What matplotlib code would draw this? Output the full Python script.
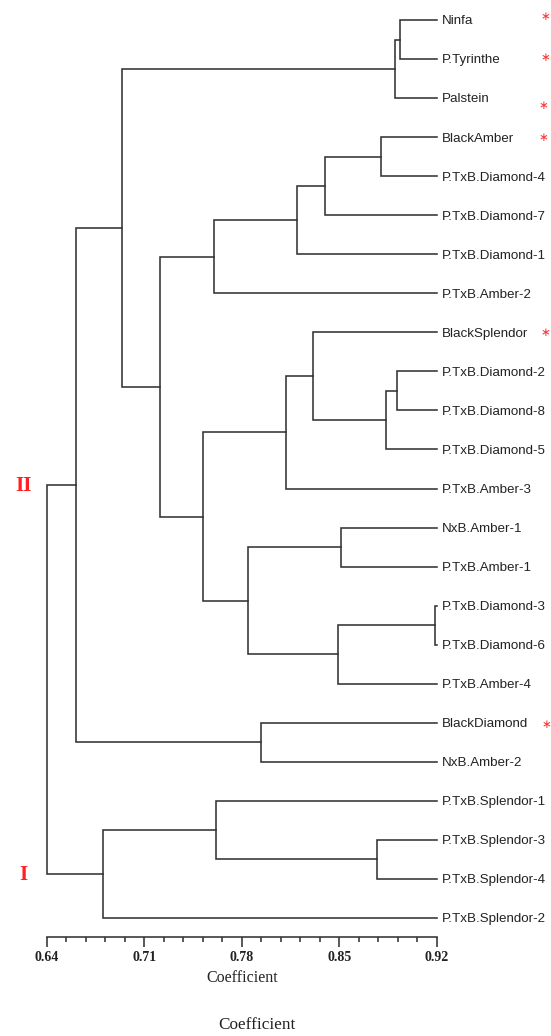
import numpy as np
import matplotlib
matplotlib.use('Agg')
import matplotlib.pyplot as plt

# leaf names, top to bottom
leaves = ['Ninfa', 'P.Tyrinthe', 'Palstein', 'BlackAmber', 'P.TxB.Diamond-4',
          'P.TxB.Diamond-7', 'P.TxB.Diamond-1', 'P.TxB.Amber-2', 'BlackSplendor',
          'P.TxB.Diamond-2', 'P.TxB.Diamond-8', 'P.TxB.Diamond-5', 'P.TxB.Amber-3',
          'NxB.Amber-1', 'P.TxB.Amber-1', 'P.TxB.Diamond-3', 'P.TxB.Diamond-6',
          'P.TxB.Amber-4', 'BlackDiamond', 'NxB.Amber-2', 'P.TxB.Splendor-1',
          'P.TxB.Splendor-3', 'P.TxB.Splendor-4', 'P.TxB.Splendor-2']

# merges: child a, child b, similarity coefficient (new node ids start at 24)
merge_a = [15, 9, 0, 26, 3, 25, 21, 13, 24, 28, 8, 33, 34, 18, 31, 20, 35, 36, 40, 27, 39, 43, 45]
merge_b = [16, 10, 1, 2, 4, 11, 22, 14, 17, 5, 29, 6, 12, 19, 32, 30, 7, 38, 41, 42, 23, 37, 44]
merge_coef = [0.919, 0.8915, 0.8934, 0.8898, 0.8798, 0.8833, 0.877, 0.8513, 0.8493,
              0.8395, 0.8312, 0.8195, 0.8119, 0.7935, 0.7843, 0.7614, 0.7604, 0.752,
              0.7214, 0.6943, 0.6807, 0.6613, 0.64]

starred = ['Ninfa', 'P.Tyrinthe', 'Palstein', 'BlackAmber', 'BlackSplendor', 'BlackDiamond']
star_dy = [-0.1, -0.04, 0.18, 0.0, 0.0, 0.05]    # small vertical nudges (rows)
star_dx = [0.0, 0.0, -1.0, -1.0, 0.0, 0.5]       # pt

group_names = ['II', 'I']
group_nodes = [45, 44]

x_min, x_max = 0.64, 0.92
n = len(leaves)

W, H = 551, 1036
fig = plt.figure(figsize=(W / 100, H / 100), dpi=100)
left_px, right_px = 46.7, 436.7
top_px, bottom_px = 20.0, 918.0
axis_px = 936.7
step = (bottom_px - top_px) / (n - 1)
ax = fig.add_axes([left_px / W, (H - axis_px) / H, (right_px - left_px) / W, axis_px / H])
ax.set_xlim(x_min, x_max)
ax.set_ylim((axis_px - top_px) / step, -top_px / step)

pos_x = {i: x_max for i in range(n)}
pos_y = {i: float(i) for i in range(n)}
lc = '#333333'
lw = 1.15
for k, (a, b, c) in enumerate(zip(merge_a, merge_b, merge_coef)):
    node = n + k
    ya, yb = pos_y[a], pos_y[b]
    ax.plot([pos_x[a], c, c, pos_x[b]], [ya, ya, yb, yb], color=lc, lw=lw,
            solid_joinstyle='miter', clip_on=False)
    pos_x[node] = c
    pos_y[node] = (ya + yb) / 2

for i, name in enumerate(leaves):
    ax.annotate(name, (x_max, i), xytext=(4, -1), textcoords='offset points',
                ha='left', va='center', fontsize=9.6, family='Liberation Sans',
                color='#222222', annotation_clip=False)

for name, dy, dx in zip(starred, star_dy, star_dx):
    i = leaves.index(name)
    ax.annotate(r'$\ast$', (x_max, i + dy), xytext=(78 + dx, 0), textcoords='offset points',
                ha='center', va='center', fontsize=8.5, color='#ff3030',
                annotation_clip=False)

for g, node in zip(group_names, group_nodes):
    ax.annotate(g, (x_min, pos_y[node]), xytext=(-17, -1), textcoords='offset points',
                ha='center', va='center', fontsize=15, family='Liberation Serif',
                fontweight='bold', color='#ff2020', annotation_clip=False)

major = np.round(np.arange(0.64, 0.92 + 1e-9, 0.07), 2)
ax.set_xticks(major)
ax.set_xticks(np.arange(0.64, 0.92 + 1e-9, 0.014), minor=True)
ax.set_xticklabels(['%.2f' % v for v in major],
                   family='Liberation Serif', fontweight='bold', fontsize=10)
ax.tick_params(axis='x', which='major', length=7, width=1.15, direction='out', pad=3,
               color='#333333', labelcolor='#222222')
ax.tick_params(axis='x', which='minor', length=3.5, width=1.15, direction='out', color='#333333')
ax.set_yticks([])
for s in ['top', 'right', 'left']:
    ax.spines[s].set_visible(False)
ax.spines['bottom'].set_color('#333333')
ax.spines['bottom'].set_linewidth(1.15)

fig.text(241.7 / W, 1 - 978 / H, 'Coefficient', ha='center', va='center',
         family='Liberation Serif', fontsize=11.5, color='#222222')
fig.text(256.7 / W, 1 - 1025 / H, 'Coefficient', ha='center', va='center',
         family='Liberation Serif', fontsize=12.3, color='#222222')

fig.savefig('out.png', dpi=100)
